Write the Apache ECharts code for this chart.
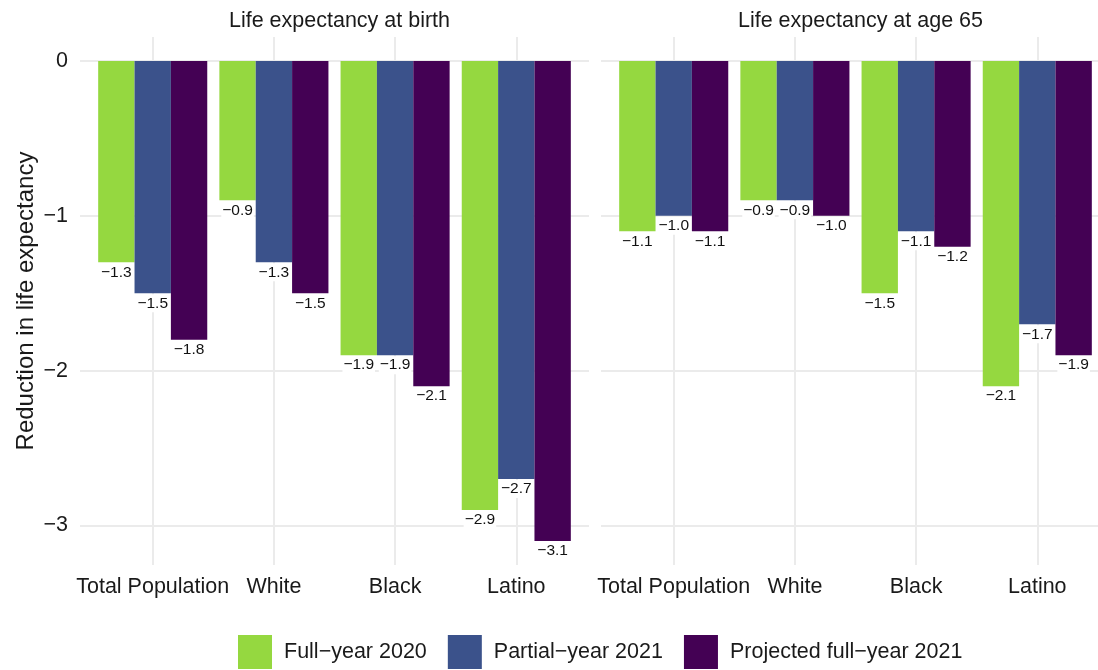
<!DOCTYPE html>
<html>
<head>
<meta charset="utf-8">
<script src="https://cdn.jsdelivr.net/npm/echarts@6/dist/echarts.min.js"></script>
<style>
  html, body { margin: 0; padding: 0; background: #fff; }
  #chart { width: 1098px; height: 670px; }
</style>
</head>
<body>
<div id="chart"></div>
<script>
// categories and panels
var groups = ["Total Population", "White", "Black", "Latino"];
var panels = ["Life expectancy at birth", "Life expectancy at age 65"];
var seriesNames = ["Full\u2212year 2020", "Partial\u2212year 2021", "Projected full\u2212year 2021"];
var colors = ["#95d840", "#3b528b", "#440154"];
var yTicks = [-3, -2, -1, 0];

// life expectancy at birth
var birthFull2020 = [-1.3, -0.9, -1.9, -2.9];
var birthPartial2021 = [-1.5, -1.3, -1.9, -2.7];
var birthProjected2021 = [-1.8, -1.5, -2.1, -3.1];

// life expectancy at age 65
var age65Full2020 = [-1.1, -0.9, -1.5, -2.1];
var age65Partial2021 = [-1.0, -0.9, -1.1, -1.7];
var age65Projected2021 = [-1.1, -1.0, -1.2, -1.9];

var FONT = "'Liberation Sans', Arial, Helvetica, sans-serif";
var TXT = "#1a1a1a";

// ggplot style minus sign
function fmt(v, digits) {
  var s = Math.abs(v).toFixed(digits);
  return v < 0 ? "\u2212" + s : s;
}

function toPoints(vals) {
  return vals.map(function (v, i) { return [i + 1, v]; });
}

var panelLeft = [80, 601];
var panelWidth = 509;

var grids = panelLeft.map(function (l) {
  return { left: l, top: 37, width: panelWidth, height: 528, outerBoundsMode: "none" };
});

var xAxes = panelLeft.map(function (l, k) {
  return {
    type: "value", gridIndex: k, min: 0.4, max: 4.6,
    axisLine: { show: false },
    axisTick: { show: false, customValues: [1, 2, 3, 4] },
    splitLine: { show: true, lineStyle: { color: "#ebebeb", width: 2 } },
    axisLabel: {
      customValues: [1, 2, 3, 4], margin: 11,
      color: TXT, fontSize: 21.5, fontFamily: FONT,
      formatter: function (v) { return groups[Math.round(v) - 1] || ""; }
    }
  };
});

var yAxes = panelLeft.map(function (l, k) {
  return {
    type: "value", gridIndex: k, min: -3.255, max: 0.155,
    name: k === 0 ? "Reduction in life expectancy" : "",
    nameLocation: "middle", nameGap: 42,
    nameTextStyle: { color: TXT, fontSize: 24, fontFamily: FONT },
    axisLine: { show: false },
    axisTick: { show: false, customValues: yTicks },
    splitLine: { show: true, lineStyle: { color: "#ebebeb", width: 2 } },
    axisLabel: {
      show: k === 0, customValues: yTicks, margin: 12,
      color: TXT, fontSize: 21.5, fontFamily: FONT,
      formatter: function (v) { return fmt(v, 0); }
    }
  };
});

var panelData = [
  [birthFull2020, birthPartial2021, birthProjected2021],
  [age65Full2020, age65Partial2021, age65Projected2021]
];

var series = [];
panelData.forEach(function (sets, k) {
  sets.forEach(function (vals, j) {
    series.push({
      type: "bar", name: seriesNames[j],
      xAxisIndex: k, yAxisIndex: k,
      data: toPoints(vals),
      barGap: "0%", barCategoryGap: "10%",
      itemStyle: { color: colors[j] },
      label: {
        show: true, position: "bottom", distance: 1,
        color: "#111", fontSize: 15.5, fontFamily: FONT,
        backgroundColor: "#fff", padding: [1, 1], lineHeight: 16,
        formatter: function (p) { return fmt(p.value[1], 1); }
      },
      emphasis: { disabled: true }
    });
  });
});

var chart = echarts.init(document.getElementById("chart"), null, { renderer: "canvas" });
chart.setOption({
  animation: false,
  backgroundColor: "#fff",
  title: panels.map(function (t, k) {
    return {
      text: t, left: panelLeft[k] + panelWidth / 2, top: 5, textAlign: "center",
      textStyle: { color: TXT, fontSize: 21.5, fontWeight: "normal", fontFamily: FONT }
    };
  }),
  legend: {
    data: seriesNames, left: 238, top: 635, padding: 0,
    itemWidth: 34, itemHeight: 34, itemGap: 21, icon: "rect",
    textStyle: { color: TXT, fontSize: 21.5, fontFamily: FONT, padding: [0, 0, 0, 7] }
  },
  grid: grids,
  xAxis: xAxes,
  yAxis: yAxes,
  series: series
});
</script>
</body>
</html>
